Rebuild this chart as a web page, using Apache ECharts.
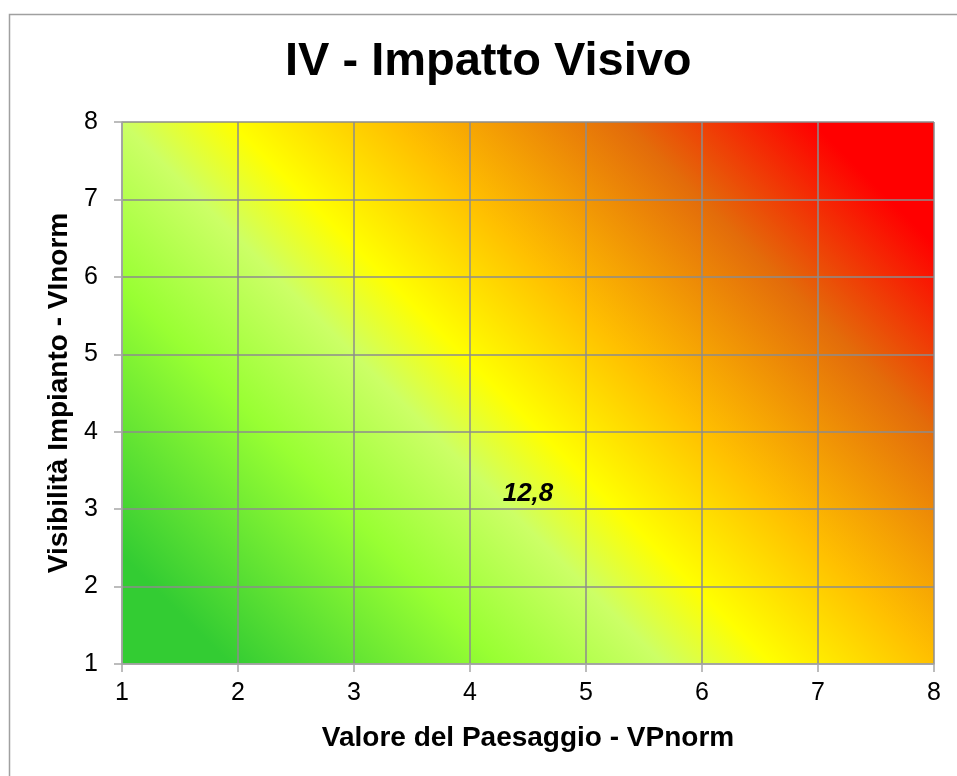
<!DOCTYPE html>
<html>
<head>
<meta charset="utf-8">
<title>IV - Impatto Visivo</title>
<script src="https://cdn.jsdelivr.net/npm/echarts@6/dist/echarts.min.js"></script>
<style>
  html, body { margin: 0; padding: 0; background: #fff; }
  #chart { width: 957px; height: 776px; }
</style>
</head>
<body>
<div id="chart"></div>
<script>
// tick values of both axes
const xTicks = [1, 2, 3, 4, 5, 6, 7, 8];
const yTicks = [1, 2, 3, 4, 5, 6, 7, 8];
// the single labelled point
const pointX = [4.5];
const pointY = [3.2];
const pointLabel = ['12,8'];
// colour stops of the background, green -> yellow -> red
const stopPos = [0, 0.08, 0.28, 0.40, 0.48, 0.60, 0.77, 0.91, 1];
const stopColor = ['#33cc33', '#33cc33', '#99ff33', '#ccff66', '#ffff00', '#ffc000', '#e36c0a', '#ff0000', '#ff0000'];

const gridLeft = 122, gridTop = 122, gridRight = 23, gridBottom = 112;
const W = 957 - gridLeft - gridRight;
const H = 776 - gridTop - gridBottom;

// 45 degree isolines in pixel space
const bg = new echarts.graphic.LinearGradient(
  0, 1, (W + H) / (2 * W), 1 - (W + H) / (2 * H),
  stopPos.map((p, i) => ({ offset: p, color: stopColor[i] }))
);

const chart = echarts.init(document.getElementById('chart'));
const axisText = { fontFamily: 'Liberation Sans, Arial, sans-serif', color: '#000' };

const option = {
  animation: false,
  backgroundColor: '#fff',
  title: {
    text: 'IV - Impatto Visivo',
    left: 285,
    top: 39,
    padding: 0,
    textStyle: { fontFamily: 'Liberation Sans, Arial, sans-serif', fontSize: 47, fontWeight: 'bold', color: '#000' }
  },
  graphic: [{
    type: 'rect',
    shape: { x: 9.5, y: 14.5, width: 970, height: 780 },
    style: { fill: 'none', stroke: '#a0a0a0', lineWidth: 1.5 },
    silent: true
  }],
  grid: {
    left: gridLeft, top: gridTop, right: gridRight, bottom: gridBottom,
    show: true,
    backgroundColor: bg,
    borderWidth: 0
  },
  xAxis: {
    type: 'value',
    min: xTicks[0], max: xTicks[xTicks.length - 1], interval: 1,
    name: 'Valore del Paesaggio - VPnorm',
    nameLocation: 'middle',
    nameGap: 60,
    nameTextStyle: Object.assign({ fontSize: 28, fontWeight: 'bold' }, axisText),
    axisLine: { lineStyle: { color: '#a6a6a6', width: 1.5 } },
    axisTick: { show: true, length: 8, lineStyle: { color: '#a6a6a6', width: 1.5 } },
    axisLabel: Object.assign({ fontSize: 25, margin: 17 }, axisText),
    splitLine: { show: true, lineStyle: { color: '#8c8c8c', width: 1.5 } }
  },
  yAxis: {
    type: 'value',
    min: yTicks[0], max: yTicks[yTicks.length - 1], interval: 1,
    name: 'Visibilità Impianto - VInorm',
    nameLocation: 'middle',
    nameGap: 49,
    nameTextStyle: Object.assign({ fontSize: 28, fontWeight: 'bold' }, axisText),
    axisLine: { show: true, lineStyle: { color: '#a6a6a6', width: 1.5 } },
    axisTick: { show: true, length: 8, lineStyle: { color: '#a6a6a6', width: 1.5 } },
    axisLabel: Object.assign({ fontSize: 25, margin: 24 }, axisText),
    splitLine: { show: true, lineStyle: { color: '#8c8c8c', width: 1.5 } }
  },
  series: [{
    type: 'scatter',
    data: pointX.map((x, i) => [x, pointY[i]]),
    symbolSize: 1,
    itemStyle: { color: 'transparent', opacity: 1 },
    label: {
      show: true,
      position: 'inside',
      formatter: p => pointLabel[p.dataIndex],
      fontFamily: 'Liberation Sans, Arial, sans-serif',
      fontSize: 26,
      fontWeight: 'bold',
      fontStyle: 'italic',
      color: '#000',
      textBorderWidth: 0,
      opacity: 1
    },
    silent: true
  }]
};

chart.setOption(option);
</script>
</body>
</html>
